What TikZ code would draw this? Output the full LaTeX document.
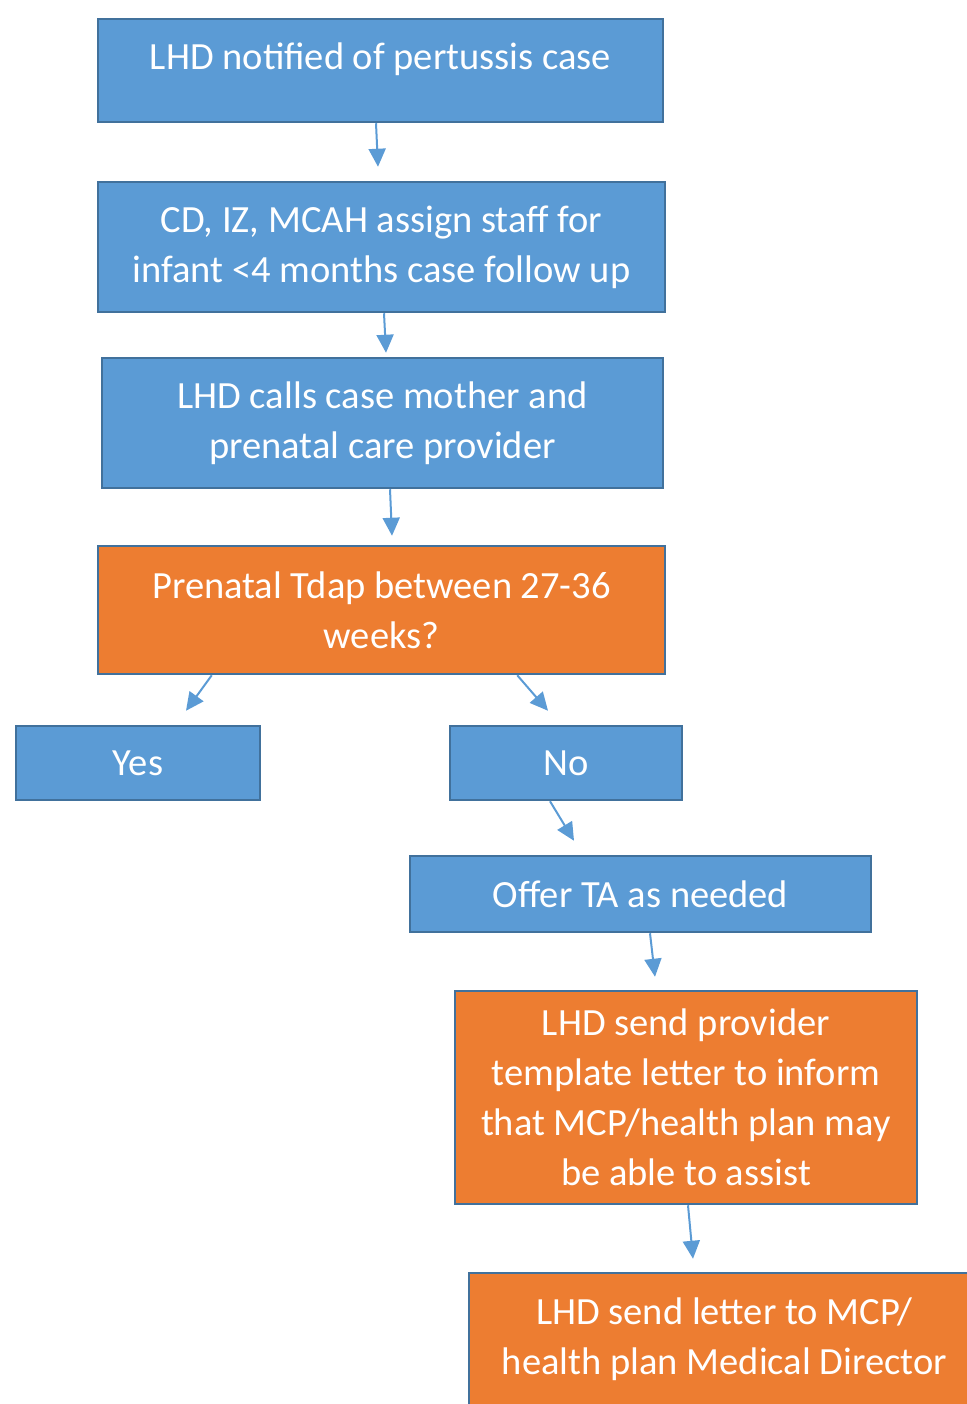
\documentclass[tikz,border=0pt]{standalone}
\usepackage{fontspec}
\setmainfont{Carlito}
\usepackage{tikz}
\usetikzlibrary{arrows.meta}
\definecolor{boxblue}{HTML}{5B9BD5}
\definecolor{boxorange}{HTML}{ED7D31}
\definecolor{edgeblue}{HTML}{41719C}

\begin{document}
\begin{tikzpicture}[x=1pt, y=-1pt,
  bluebox/.style={draw=edgeblue, line width=2.5pt, fill=boxblue, rectangle, text=white, align=center, inner sep=0pt, font=\fontsize{38.5}{50}\selectfont},
  orangebox/.style={bluebox, fill=boxorange},
  arr/.style={-{Triangle[width=17pt,length=18pt]}, line width=2pt, boxblue}]
\useasboundingbox (0,0) rectangle (966,1404);
\node[bluebox, minimum width=565pt, text height=50.5pt, text depth=52.5pt] (notified) at (380.5,70.5) {LHD notified of pertussis case};
\node[bluebox, minimum width=567pt, minimum height=130pt] (assign) at (381.5,247) {CD, IZ, MCAH assign staff for\\infant <4 months case follow up};
\node[bluebox, minimum width=561pt, minimum height=130pt] (calls) at (382.5,423) {LHD calls case mother and\\prenatal care provider};
\node[orangebox, minimum width=567pt, minimum height=128pt] (tdap) at (381.5,610) {Prenatal Tdap between 27-36\\weeks?};
\node[bluebox, minimum width=244pt, minimum height=74pt] (yes) at (138,763) {Yes};
\node[bluebox, minimum width=232pt, minimum height=74pt] (no) at (566,763) {No};
\node[bluebox, minimum width=461pt, minimum height=76pt] (offer) at (640.5,894) {Offer TA as needed};
\node[orangebox, minimum width=462pt, minimum height=213pt] (provider) at (686,1097.5) {LHD send provider\\template letter to inform\\that MCP/health plan may\\be able to assist};
\node[orangebox, minimum width=511pt, minimum height=176pt] (director) at (724.5,1361) {LHD send letter to MCP/\\health plan Medical Director\\~};
% connectors
\draw [arr] ([xshift=-4.5pt]notified.south) -- ([xshift=-3.5pt,yshift=14pt]assign.north);
\draw [arr] ([xshift=2.5pt]assign.south) -- ([xshift=3.5pt,yshift=4pt]calls.north);
\draw [arr] ([xshift=7.5pt]calls.south) -- ([xshift=10.5pt,yshift=9pt]tdap.north);
\draw [arr] ([xshift=115pt]tdap.south west) -- ([xshift=48pt,yshift=14pt]yes.north);
\draw [arr] ([xshift=-149pt]tdap.south east) -- ([xshift=-18pt,yshift=14pt]no.north);
\draw [arr] ([xshift=-16pt]no.south) -- ([xshift=-66.5pt,yshift=14pt]offer.north);
\draw [arr] ([xshift=9.5pt]offer.south) -- ([xshift=-31pt,yshift=13pt]provider.north);
\draw [arr] ([xshift=2pt]provider.south) -- ([xshift=-31.5pt,yshift=13pt]director.north);
\end{tikzpicture}
\end{document}
